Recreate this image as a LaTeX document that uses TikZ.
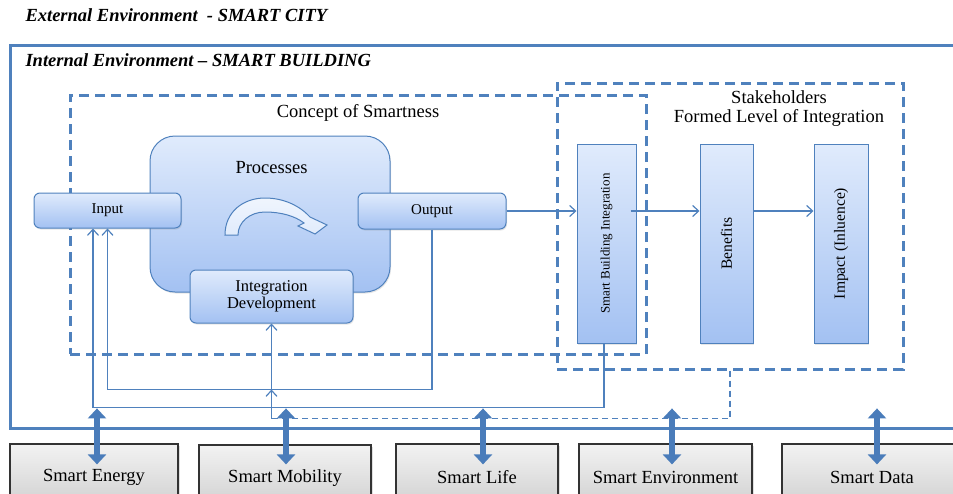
\documentclass[tikz,border=0pt]{standalone}
\usepackage{fontspec}
\setmainfont{Liberation Serif}
\usepackage{graphicx}
\usepackage{tikz}
\usetikzlibrary{arrows.meta,calc,positioning,shadows}

\definecolor{lineblue}{RGB}{79,129,189}
\definecolor{arrowblue}{RGB}{74,124,186}
\definecolor{boxtop}{RGB}{224,235,252}
\definecolor{boxbot}{RGB}{163,193,242}

\begin{document}
\begin{tikzpicture}[x=1pt, y=-1pt,
    every node/.style={font=\fontsize{18.5}{19}\selectfont},
    title/.style={anchor=base west, font=\fontsize{18.5}{19}\selectfont\bfseries\itshape},
    frame/.style={draw=lineblue, line width=3pt, dash pattern=on 10pt off 6pt, inner sep=0pt},
    bluebox/.style={draw=lineblue, line width=1pt, top color=boxtop, bottom color=boxbot, inner sep=0pt, align=center,
        drop shadow={opacity=0.2, shadow xshift=1pt, shadow yshift=-1.5pt}},
    roundbox/.style={bluebox, rounded corners=6pt},
    tallbox/.style={bluebox, minimum height=199pt},
    citybox/.style={draw=black!80, line width=1.2pt, top color=gray!10, bottom color=gray!38, minimum height=66pt,
        drop shadow={opacity=0.25, shadow xshift=1.5pt, shadow yshift=-1.5pt}},
    flow/.style={draw=lineblue, line width=1.2pt, -{Straight Barb[length=6pt,width=11pt]}},
    link/.style={draw=lineblue, line width=1.2pt},
    dashlink/.style={link, dash pattern=on 6pt off 4pt},
    both/.style={draw=arrowblue, line width=6pt, {Triangle[length=10pt,width=18pt]}-{Triangle[length=10pt,width=18pt]}}
]
    \useasboundingbox (0,0) rectangle (953,493);
    \clip (0,0) rectangle (953,493);

    % Environments
    \node[title] (city) at (22,21) {External Environment\ \ - SMART CITY};
    \node[draw=lineblue, line width=3pt, minimum width=950pt, minimum height=383pt] (bldg) at (485,236.5) {};
    \node[title] (bldgtitle) at (22,66) {Internal Environment – SMART BUILDING};

    % Dashed frames
    \node[frame, minimum width=576pt, minimum height=259pt] (concept) at (358,224.5) {};
    \node[anchor=base] (conceptlabel) at (358,117) {Concept of Smartness};
    \node[frame, minimum width=346pt, minimum height=286pt] (stake) at (730,226) {};
    \node[align=center, anchor=north, inner sep=0pt] (stakelabel) at (779,90.5) {Stakeholders\\Formed Level of Integration};

    % Processes
    \node[bluebox, rounded corners=25pt, minimum width=240pt, minimum height=156pt] (proc) at (270,214) {};
    \node[anchor=base] (proclabel) at (271.5,173) {Processes};
    \draw[draw=lineblue, line width=1pt, top color=boxtop!50!white, bottom color=boxtop]
        (225,235) .. controls (225,212) and (243,198) .. (265,198)
        .. controls (284,198) and (300,206) .. (310,217)
        -- (327,225) -- (315,234) -- (298,226) -- (304,223)
        .. controls (295,216) and (281,212) .. (265,212)
        .. controls (250,212) and (238,222) .. (238,235) -- cycle;

    \node[roundbox, minimum width=147pt, minimum height=35pt, font=\fontsize{15}{16}\selectfont] (input) at (107.5,210.5) {Input};
    \node[roundbox, minimum width=148pt, minimum height=36pt, font=\fontsize{15}{16}\selectfont] (output) at (432,211) {Output};
    \node[roundbox, minimum width=163pt, minimum height=53pt, font=\fontsize{16.5}{17}\selectfont] (intdev) at (271.5,296.5) {Integration\\Development};

    % Stakeholders
    \node[tallbox, minimum width=59pt, font=\fontsize{13}{14}\selectfont] (sbi) at (606.5,243.5) {\rotatebox{90}{Smart Building Integration}};
    \node[tallbox, minimum width=53pt, right=63pt of sbi, font=\fontsize{15.6}{16}\selectfont] (benefits) {\rotatebox{90}{Benefits}};
    \node[tallbox, minimum width=54pt, right=60pt of benefits, font=\fontsize{15.6}{16}\selectfont] (impact) {\rotatebox{90}{Impact (Inluence)}};

    % Smart city domains
    \node[citybox, minimum width=168pt] (energy) at (94,477) {Smart Energy};
    \node[citybox, minimum width=172pt] (mobility) at (285,478) {Smart Mobility};
    \node[citybox, minimum width=162pt] (life) at (477,477) {Smart Life};
    \node[citybox, minimum width=173pt] (environment) at (665.5,477) {Smart Environment};
    \node[citybox, minimum width=180pt] (data) at (872,477) {Smart Data};

    % Edges
    \draw[flow] (output) -- (sbi.west |- output);
    \draw[flow] ([xshift=-6pt]sbi.east |- output) -- (benefits.west |- output);
    \draw[flow] (benefits.east |- output) -- (impact.west |- output);

    % Feedback
    \coordinate (outbend) at ($(output.south)+(0,160)$);
    \coordinate (fbturn) at ($(intdev.south)+(0,95)$);
    \draw[flow] (output.south) -- (outbend) -| (input.south);
    \draw[flow] ([xshift=-2.5pt]sbi.south) -- ++(0,64) -| ([xshift=-14.5pt]input.south);
    \draw[dashlink] (stake.south) |- (fbturn);
    \draw[flow] (fbturn) -- (intdev.south |- outbend);
    \draw[flow] (intdev.south |- outbend) -- (intdev.south);

    % Links to the city
    \draw[both] ($(energy.north)+(3,-35)$) -- ($(energy.north)+(3,21)$);
    \draw[both] ($(mobility.north)+(1,-36)$) -- ($(mobility.north)+(1,20)$);
    \draw[both] ($(life.north)+(6,-35)$) -- ($(life.north)+(6,21)$);
    \draw[both] ($(environment.north)+(6.5,-35)$) -- ($(environment.north)+(6.5,21)$);
    \draw[both] ($(data.north)+(5,-35)$) -- ($(data.north)+(5,21)$);
\end{tikzpicture}
\end{document}
